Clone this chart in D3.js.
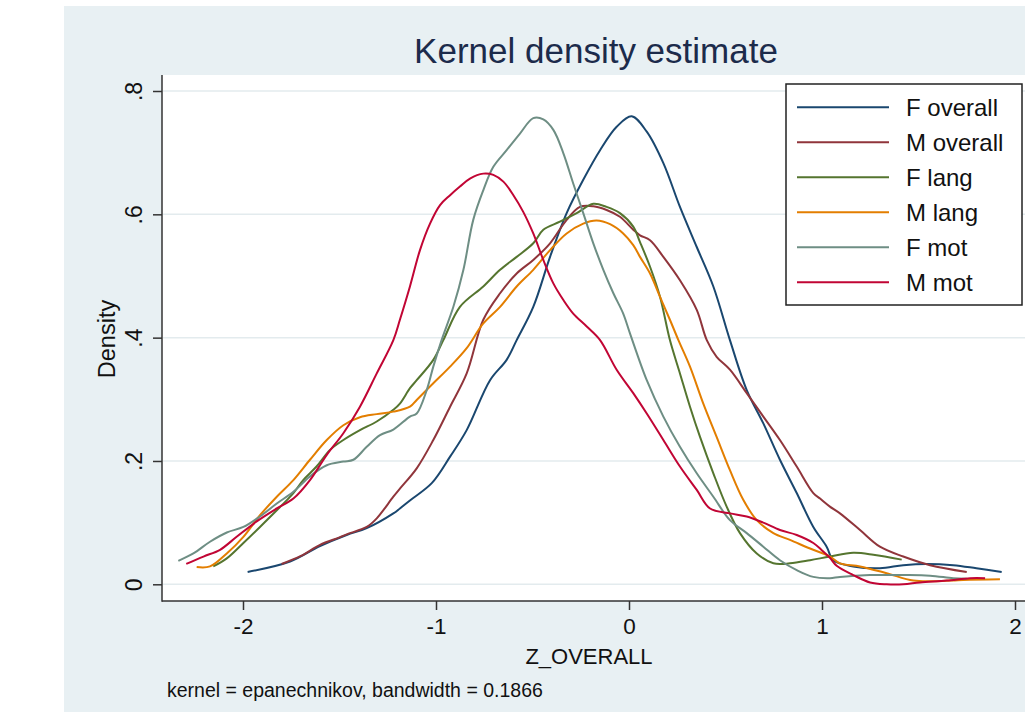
<!DOCTYPE html>
<html>
<head>
<meta charset="utf-8">
<script src="https://cdn.jsdelivr.net/npm/d3@7"></script>
<style>
body { margin: 0; background: #fff; }
svg { display: block; font-family: "Liberation Sans", Arial, Helvetica, sans-serif; }
</style>
</head>
<body>
<svg id="chart"></svg>
<script>
// series: [z, density]
var fOverall = [[-1.976,0.020],[-1.756,0.037],[-1.601,0.062],[-1.463,0.080],[-1.359,0.091],[-1.221,0.115],[-1.187,0.123],[-1.135,0.136],
  [-1.022,0.164],[-0.927,0.207],[-0.841,0.250],[-0.720,0.331],[-0.634,0.364],[-0.582,0.396],[-0.496,0.450],[-0.409,0.531],
  [-0.323,0.602],[-0.237,0.656],[-0.150,0.704],[-0.064,0.742],[0.014,0.759],[0.092,0.734],[0.178,0.683],[0.264,0.612],
  [0.351,0.547],[0.437,0.483],[0.523,0.396],[0.610,0.315],[0.696,0.261],[0.782,0.202],[0.869,0.148],[0.955,0.093],
  [1.024,0.061],[1.059,0.039],[1.162,0.029],[1.300,0.026],[1.421,0.031],[1.542,0.033],[1.680,0.031],[1.800,0.026],[1.931,0.020]];
var mOverall = [[-1.800,0.033],[-1.700,0.046],[-1.601,0.064],[-1.500,0.076],[-1.463,0.081],[-1.359,0.093],[-1.307,0.107],[-1.221,0.142],
  [-1.187,0.155],[-1.100,0.188],[-1.014,0.234],[-0.927,0.288],[-0.841,0.342],[-0.755,0.429],[-0.668,0.472],[-0.582,0.504],
  [-0.496,0.526],[-0.409,0.553],[-0.323,0.591],[-0.254,0.612],[-0.185,0.613],[-0.116,0.607],[-0.047,0.596],[0.022,0.575],
  [0.057,0.566],[0.109,0.558],[0.178,0.531],[0.264,0.493],[0.351,0.445],[0.403,0.396],[0.454,0.369],[0.523,0.348],
  [0.610,0.310],[0.696,0.272],[0.782,0.234],[0.869,0.191],[0.955,0.148],[0.990,0.139],[1.041,0.126],[1.093,0.115],
  [1.197,0.088],[1.300,0.061],[1.421,0.045],[1.560,0.031],[1.750,0.020]];
var fLang = [[-2.154,0.029],[-2.084,0.042],[-1.998,0.067],[-1.912,0.093],[-1.825,0.120],[-1.739,0.148],[-1.688,0.169],[-1.619,0.191],
  [-1.549,0.218],[-1.480,0.234],[-1.394,0.250],[-1.307,0.264],[-1.221,0.283],[-1.187,0.293],[-1.135,0.318],[-1.100,0.331],
  [-1.014,0.364],[-0.962,0.396],[-0.876,0.450],[-0.755,0.483],[-0.668,0.510],[-0.582,0.531],[-0.496,0.553],[-0.444,0.575],
  [-0.358,0.588],[-0.271,0.602],[-0.185,0.617],[-0.116,0.612],[-0.047,0.602],[0.022,0.580],[0.057,0.555],[0.109,0.515],
  [0.161,0.466],[0.212,0.396],[0.264,0.342],[0.316,0.288],[0.368,0.239],[0.437,0.180],[0.506,0.126],[0.575,0.083],
  [0.662,0.050],[0.748,0.034],[0.834,0.034],[0.938,0.039],[1.041,0.045],[1.162,0.051],[1.266,0.048],[1.413,0.040]];
var mLang = [[-2.240,0.028],[-2.171,0.029],[-2.084,0.050],[-1.998,0.077],[-1.912,0.112],[-1.825,0.142],[-1.739,0.169],[-1.653,0.202],
  [-1.566,0.234],[-1.480,0.258],[-1.394,0.271],[-1.307,0.276],[-1.221,0.280],[-1.135,0.288],[-1.100,0.299],[-1.014,0.326],
  [-0.927,0.353],[-0.841,0.383],[-0.755,0.423],[-0.668,0.450],[-0.582,0.483],[-0.496,0.510],[-0.409,0.542],[-0.323,0.569],
  [-0.237,0.585],[-0.168,0.590],[-0.098,0.584],[-0.030,0.569],[0.022,0.550],[0.057,0.531],[0.109,0.504],[0.161,0.466],
  [0.212,0.429],[0.256,0.396],[0.316,0.353],[0.385,0.293],[0.454,0.239],[0.523,0.185],[0.592,0.137],[0.662,0.104],
  [0.748,0.083],[0.834,0.072],[0.938,0.058],[1.041,0.045],[1.093,0.034],[1.197,0.029],[1.335,0.018],[1.473,0.006],
  [1.594,0.005],[1.732,0.007],[1.922,0.008]];
var fMot = [[-2.335,0.038],[-2.257,0.050],[-2.171,0.069],[-2.084,0.084],[-1.998,0.093],[-1.912,0.110],[-1.825,0.131],[-1.739,0.150],
  [-1.653,0.175],[-1.566,0.193],[-1.480,0.199],[-1.428,0.202],[-1.359,0.223],[-1.290,0.242],[-1.221,0.251],[-1.135,0.272],
  [-1.100,0.277],[-1.048,0.315],[-1.014,0.353],[-0.971,0.396],[-0.910,0.450],[-0.858,0.510],[-0.807,0.591],[-0.755,0.639],
  [-0.703,0.677],[-0.634,0.704],[-0.565,0.731],[-0.496,0.756],[-0.444,0.754],[-0.392,0.737],[-0.340,0.699],[-0.289,0.650],
  [-0.237,0.602],[-0.185,0.553],[-0.133,0.510],[-0.081,0.472],[-0.030,0.439],[0.005,0.407],[0.092,0.331],[0.178,0.272],
  [0.264,0.223],[0.351,0.180],[0.437,0.142],[0.523,0.104],[0.610,0.083],[0.696,0.061],[0.782,0.039],[0.869,0.023],
  [0.955,0.012],[1.041,0.010],[1.093,0.012],[1.249,0.015],[1.421,0.015],[1.560,0.014],[1.680,0.010],[1.750,0.009]];
var mMot = [[-2.294,0.033],[-2.205,0.045],[-2.119,0.056],[-2.033,0.077],[-1.929,0.102],[-1.825,0.123],[-1.739,0.139],[-1.653,0.169],
  [-1.566,0.210],[-1.480,0.245],[-1.394,0.288],[-1.307,0.342],[-1.221,0.396],[-1.187,0.429],[-1.135,0.483],[-1.083,0.542],
  [-1.031,0.585],[-0.979,0.615],[-0.927,0.631],[-0.876,0.645],[-0.824,0.658],[-0.755,0.666],[-0.703,0.664],[-0.651,0.653],
  [-0.599,0.631],[-0.548,0.604],[-0.496,0.569],[-0.444,0.526],[-0.392,0.488],[-0.340,0.461],[-0.289,0.439],[-0.219,0.418],
  [-0.150,0.396],[-0.064,0.348],[0.022,0.310],[0.092,0.277],[0.178,0.234],[0.264,0.191],[0.351,0.153],[0.420,0.123],
  [0.523,0.115],[0.610,0.110],[0.696,0.100],[0.782,0.088],[0.869,0.080],[0.955,0.067],[1.000,0.055],[1.041,0.043],
  [1.076,0.030],[1.162,0.015],[1.249,0.003],[1.335,0.000],[1.421,0.000],[1.508,0.003],[1.646,0.006],[1.767,0.010],[1.845,0.010]];

var seriesNames = ["F overall","M overall","F lang","M lang","F mot","M mot"];
var seriesColors = ["#1a476f","#90353b","#55752f","#e37e00","#6e8e84","#c10534"];
var seriesData = [fOverall, mOverall, fLang, mLang, fMot, mMot];

var xTicks = [-2,-1,0,1,2];
var yTicks = [0,0.2,0.4,0.6,0.8];
var yTickLabels = ["0",".2",".4",".6",".8"];

var titleText = "Kernel density estimate";
var xTitle = "Z_OVERALL";
var yTitle = "Density";
var noteText = "kernel = epanechnikov, bandwidth = 0.1866";

function main(){
    var svgWidth = 1025, svgHeight = 712;
    var plotLeft = 162, plotTop = 75, plotBottom = 601, plotRight = 1025;

    var svg = d3.select("#chart")
        .attr("width", svgWidth)
        .attr("height", svgHeight);

    // graph region + plot region
    svg.append("rect").attr("x",64).attr("y",6).attr("width",svgWidth-64).attr("height",svgHeight-6)
        .attr("fill","#e8f0f3");
    svg.append("rect").attr("x",plotLeft).attr("y",plotTop).attr("width",plotRight-plotLeft).attr("height",plotBottom-plotTop)
        .attr("fill","#fff");

    var xScale = d3.scaleLinear().domain([-2,2]).range([243,1015]);
    var yScale = d3.scaleLinear().domain([0,0.8]).range([584.3,91]);

    // gridlines
    svg.selectAll("line.grid")
        .data(yTicks)
        .enter()
        .append("line")
        .attr("class","grid")
        .attr("x1",plotLeft+1).attr("x2",plotRight)
        .attr("y1",function(d){ return yScale(d); })
        .attr("y2",function(d){ return yScale(d); })
        .attr("stroke","#e3ebee")
        .attr("stroke-width",1.5);

    // curves
    var line = d3.line()
        .x(function(d){ return xScale(d[0]); })
        .y(function(d){ return yScale(d[1]); })
        .curve(d3.curveCatmullRom.alpha(0.5));

    svg.selectAll("path.kd")
        .data(seriesData)
        .enter()
        .append("path")
        .attr("class","kd")
        .attr("d", line)
        .attr("fill","none")
        .attr("stroke",function(d,i){ return seriesColors[i]; })
        .attr("stroke-width",2)
        .attr("stroke-linejoin","round");

    // y axis
    var yAxis = d3.axisLeft(yScale).tickValues(yTicks).tickSize(9)
        .tickFormat(function(d,i){ return yTickLabels[i]; });
    var gy = svg.append("g").attr("transform","translate("+plotLeft+",0)").call(yAxis);
    gy.select(".domain").remove();
    gy.selectAll(".tick line").attr("stroke","#333").attr("stroke-width",1.5);
    gy.selectAll(".tick text")
        .attr("x",null).attr("dy",null)
        .attr("transform","translate(-20,0) rotate(-90)")
        .attr("text-anchor","middle")
        .attr("font-size","23px")
        .attr("fill","#111");

    // x axis
    var xAxis = d3.axisBottom(xScale).tickValues(xTicks).tickSize(9).tickFormat(d3.format("d"));
    var gx = svg.append("g").attr("transform","translate(0,"+plotBottom+")").call(xAxis);
    gx.select(".domain").remove();
    gx.selectAll(".tick line").attr("stroke","#333").attr("stroke-width",1.5);
    gx.selectAll(".tick text")
        .attr("y",17)
        .attr("font-size","22.5px")
        .attr("fill","#111")
        .text(function(d){ return d < 0 ? "-" + Math.abs(d) : d; });

    // axis lines
    svg.append("line").attr("x1",plotLeft).attr("x2",plotLeft).attr("y1",plotTop).attr("y2",plotBottom+0.75)
        .attr("stroke","#333").attr("stroke-width",1.5);
    svg.append("line").attr("x1",plotLeft).attr("x2",plotRight).attr("y1",plotBottom).attr("y2",plotBottom)
        .attr("stroke","#333").attr("stroke-width",1.5);

    // titles
    svg.append("text").text(titleText)
        .attr("x",596).attr("y",63)
        .attr("text-anchor","middle")
        .attr("font-size","35px")
        .attr("fill","#1c2b4b");
    svg.append("text").text(xTitle)
        .attr("x",589).attr("y",664)
        .attr("text-anchor","middle")
        .attr("font-size","22px")
        .attr("fill","#111");
    svg.append("text").text(yTitle)
        .attr("transform","translate(115,339) rotate(-90)")
        .attr("text-anchor","middle")
        .attr("font-size","23.5px")
        .attr("fill","#111");
    svg.append("text").text(noteText)
        .attr("x",167).attr("y",697)
        .attr("font-size","19.5px")
        .attr("fill","#111");

    // legend
    var legend = svg.append("g");
    legend.append("rect")
        .attr("x",786).attr("y",84).attr("width",236).attr("height",221)
        .attr("fill","#fff").attr("stroke","#222").attr("stroke-width",1.5);
    var items = legend.selectAll("g.item")
        .data(seriesNames)
        .enter()
        .append("g")
        .attr("class","item")
        .attr("transform",function(d,i){ return "translate(0,"+(107.3+35*i)+")"; });
    items.append("line")
        .attr("x1",797).attr("x2",889).attr("y1",0).attr("y2",0)
        .attr("stroke",function(d,i){ return seriesColors[i]; })
        .attr("stroke-width",2);
    items.append("text")
        .attr("x",906).attr("y",8.5)
        .attr("font-size","24px")
        .attr("fill","#111")
        .text(function(d){ return d; });
}
main();
</script>
</body>
</html>
